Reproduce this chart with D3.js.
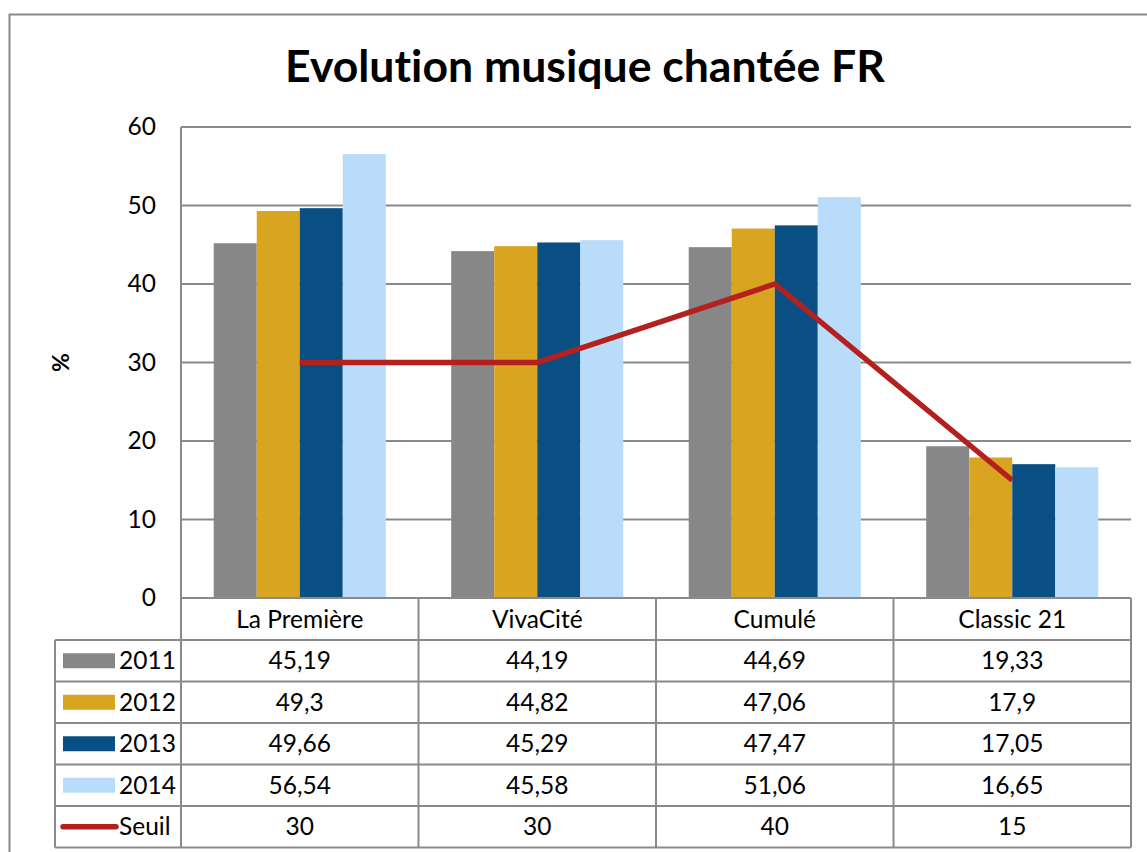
<!DOCTYPE html>
<html>
<head>
<meta charset="utf-8">
<script src="https://cdn.jsdelivr.net/npm/d3@7"></script>
<style>
  body { margin: 0; background: #fff; }
  svg { display: block; font-family: Lato, "Open Sans", sans-serif; font-variant-ligatures: none; }
</style>
</head>
<body>
<script>
var categories = ["La Première", "VivaCité", "Cumulé", "Classic 21"];
var years = ["2011", "2012", "2013", "2014"];
var values2011 = [45.19, 44.19, 44.69, 19.33];
var values2012 = [49.3, 44.82, 47.06, 17.9];
var values2013 = [49.66, 45.29, 47.47, 17.05];
var values2014 = [56.54, 45.58, 51.06, 16.65];
var seuil = [30, 30, 40, 15];
var yTicks = [0, 10, 20, 30, 40, 50, 60];
var yearColors = ["#878787", "#d9a520", "#0a4f84", "#b8dcfa"];
var seuilColor = "#b3201e";

var series = [values2011, values2012, values2013, values2014];

var w = 1147, h = 852;
var plot = {left: 181, right: 1131, top: 127, bottom: 598};
var tableLeft = 55;
var rowH = 41.5;
var gridColor = "#8a8a8a";
var fontSize = "24.5px";

function fmt(v) { return String(v).replace(".", ","); }

var svg = d3.select("body").append("svg")
    .attr("width", w)
    .attr("height", h);

// outer chart border (runs off the right/bottom of the picture)
svg.append("rect")
    .attr("x", 9.5).attr("y", 14.5)
    .attr("width", 1160).attr("height", 860)
    .attr("fill", "none")
    .attr("stroke", gridColor)
    .attr("stroke-width", 2);

// title
var title = svg.append("text")
    .attr("x", 585)
    .attr("y", 82)
    .attr("text-anchor", "middle")
    .style("font-weight", "bold")
    .style("font-size", "44px")
    .text("Evolution musique chantée FR");
var tl = title.node().getComputedTextLength();
title.style("font-size", (44 * 600 / tl) + "px");

// scales
var xScale = d3.scaleBand()
    .domain(categories)
    .range([plot.left, plot.right]);

var xInner = d3.scaleBand()
    .domain(years)
    .range([0, xScale.bandwidth()])
    .paddingOuter(0.76);

var yScale = d3.scaleLinear()
    .domain([0, 60])
    .range([plot.bottom, plot.top]);

// gridlines
svg.append("g")
    .selectAll("line")
    .data(yTicks.filter(function (d) { return d > 0; }))
    .enter()
    .append("line")
    .attr("x1", plot.left).attr("x2", plot.right)
    .attr("y1", function (d) { return yScale(d); })
    .attr("y2", function (d) { return yScale(d); })
    .attr("stroke", gridColor)
    .attr("stroke-width", 2);

// y axis labels
var yAxis = d3.axisLeft(yScale)
    .tickValues(yTicks)
    .tickSize(0)
    .tickPadding(25);

var gy = svg.append("g")
    .attr("transform", "translate(" + plot.left + ",0)")
    .call(yAxis);
gy.select(".domain").remove();
gy.selectAll("text")
    .style("font-size", fontSize)
    .style("font-family", "Lato, sans-serif")
    .attr("fill", "#000");

svg.append("text")
    .attr("transform", "translate(61," + yScale(30) + ") rotate(-90)")
    .attr("text-anchor", "middle")
    .attr("dy", "0.35em")
    .style("font-weight", "bold")
    .style("font-size", "23px")
    .text("%");

// bars
var groups = svg.append("g")
    .selectAll("g")
    .data(years)
    .enter()
    .append("g")
    .attr("fill", function (d, i) { return yearColors[i]; });

groups.selectAll("rect")
    .data(function (d, i) {
        return categories.map(function (c, j) {
            return {cat: c, year: d, value: series[i][j]};
        });
    })
    .enter()
    .append("rect")
    .attr("x", function (d) { return xScale(d.cat) + xInner(d.year); })
    .attr("y", function (d) { return yScale(d.value); })
    .attr("width", xInner.bandwidth())
    .attr("height", function (d) { return yScale(0) - yScale(d.value); });

// seuil line
var line = d3.line()
    .x(function (d, i) { return xScale(categories[i]) + xScale.bandwidth() / 2; })
    .y(function (d) { return yScale(d); });

svg.append("path")
    .datum(seuil)
    .attr("d", line)
    .attr("fill", "none")
    .attr("stroke", seuilColor)
    .attr("stroke-width", 5.5)
    .attr("stroke-linejoin", "miter");

// data table
var table = svg.append("g").attr("stroke", gridColor).attr("stroke-width", 2);
var tableTop = plot.bottom;
var headerBottom = tableTop + 42;
var nRows = years.length + 1;
var tableBottom = headerBottom + nRows * rowH;

// left axis line through plot and table
table.append("line")
    .attr("x1", plot.left).attr("x2", plot.left)
    .attr("y1", plot.top).attr("y2", tableBottom);
table.append("line")
    .attr("x1", plot.left).attr("x2", plot.right)
    .attr("y1", tableTop).attr("y2", tableTop);

var colEdges = categories.map(function (c) { return xScale(c) + xScale.bandwidth(); });
table.selectAll(".col")
    .data(colEdges)
    .enter()
    .append("line")
    .attr("class", "col")
    .attr("x1", function (d) { return d; }).attr("x2", function (d) { return d; })
    .attr("y1", tableTop).attr("y2", tableBottom);

var rowLines = d3.range(nRows + 1).map(function (i) { return headerBottom + i * rowH; });
table.selectAll(".row")
    .data(rowLines)
    .enter()
    .append("line")
    .attr("class", "row")
    .attr("x1", tableLeft).attr("x2", plot.right)
    .attr("y1", function (d) { return d; }).attr("y2", function (d) { return d; });

table.append("line")
    .attr("x1", tableLeft).attr("x2", tableLeft)
    .attr("y1", headerBottom).attr("y2", tableBottom);

// category header labels
svg.append("g")
    .selectAll("text")
    .data(categories)
    .enter()
    .append("text")
    .attr("x", function (d) { return xScale(d) + xScale.bandwidth() / 2; })
    .attr("y", (tableTop + headerBottom) / 2)
    .attr("dy", "0.35em")
    .attr("text-anchor", "middle")
    .style("font-size", fontSize)
    .text(function (d) { return d; });

// rows
var rowData = series.concat([seuil]);
var rowLabels = years.concat(["Seuil"]);

var rows = svg.append("g")
    .selectAll("g")
    .data(rowData)
    .enter()
    .append("g")
    .attr("transform", function (d, i) {
        return "translate(0," + (headerBottom + i * rowH + rowH / 2) + ")";
    });

rows.selectAll("text.val")
    .data(function (d) { return d; })
    .enter()
    .append("text")
    .attr("class", "val")
    .attr("x", function (d, j) { return xScale(categories[j]) + xScale.bandwidth() / 2; })
    .attr("dy", "0.35em")
    .attr("text-anchor", "middle")
    .style("font-size", fontSize)
    .text(function (d) { return fmt(d); });

rows.append("text")
    .attr("x", 119)
    .attr("dy", "0.35em")
    .style("font-size", fontSize)
    .text(function (d, i) { return rowLabels[i]; });

// legend keys
rows.filter(function (d, i) { return i < years.length; })
    .append("rect")
    .attr("x", 63)
    .attr("y", -7.5)
    .attr("width", 52)
    .attr("height", 15)
    .attr("fill", function (d, i) { return yearColors[i]; });

rows.filter(function (d, i) { return i === years.length; })
    .append("line")
    .attr("x1", 63).attr("x2", 116)
    .attr("y1", 0).attr("y2", 0)
    .attr("stroke", seuilColor)
    .attr("stroke-width", 5.5)
    .attr("stroke-linecap", "round");
</script>
</body>
</html>
